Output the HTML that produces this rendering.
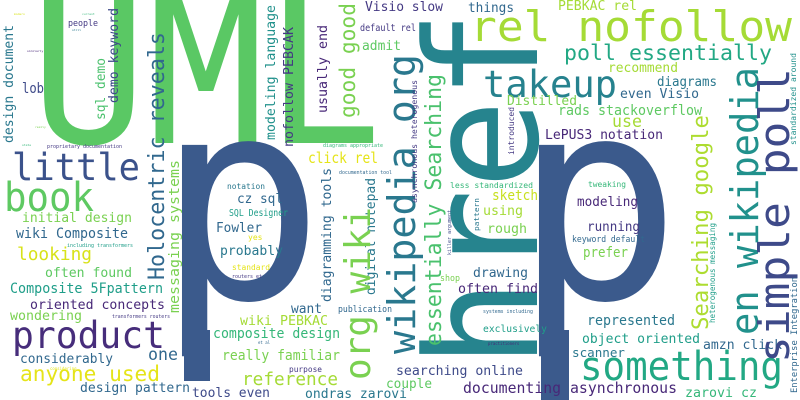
<!DOCTYPE html>
<html><head><meta charset="utf-8">
<style>
html,body{margin:0;padding:0;background:#fff;}
svg{display:block;}
text{font-family:"DejaVu Sans Mono","Liberation Mono",monospace;}
</style></head>
<body>
<svg width="800" height="400" viewBox="0 0 800 400" xmlns="http://www.w3.org/2000/svg">
<rect width="800" height="400" fill="#fff"/>
<g>
<text x="30" y="143" font-size="200" fill="#5ac864" textLength="352" lengthAdjust="spacingAndGlyphs">UML</text>
<text x="156" y="298" font-size="280" fill="#3b5a8c">p</text>
<rect x="184" y="330" width="26" height="51" fill="#3b5a8c"/>
<text x="513" y="298" font-size="280" fill="#3b5a8c">p</text>
<rect x="541" y="330" width="28" height="70" fill="#3b5a8c"/>
<text transform="translate(537,368) rotate(-90)" font-size="155" fill="#26848e" textLength="358" lengthAdjust="spacingAndGlyphs">href</text>
</g>
<g>
<text x="470" y="41" font-size="42" fill="#a5db36" textLength="322" lengthAdjust="spacingAndGlyphs">rel nofollow</text>
<text x="483" y="97" font-size="37" fill="#26828e" textLength="134" lengthAdjust="spacingAndGlyphs">takeup</text>
<text x="564" y="60" font-size="21" fill="#22a884" textLength="208" lengthAdjust="spacingAndGlyphs">poll essentially</text>
<text x="558" y="10" font-size="13" fill="#a5db36" textLength="79" lengthAdjust="spacingAndGlyphs">PEBKAC rel</text>
<text x="468" y="12" font-size="13" fill="#31688e" textLength="46" lengthAdjust="spacingAndGlyphs">things</text>
<text x="365" y="11" font-size="13" fill="#443983" textLength="78" lengthAdjust="spacingAndGlyphs">Visio slow</text>
<text x="360" y="31" font-size="10" fill="#443983" textLength="56" lengthAdjust="spacingAndGlyphs">default rel</text>
<text x="362" y="50" font-size="13" fill="#5ec962" textLength="39" lengthAdjust="spacingAndGlyphs">admit</text>
<text x="608" y="72" font-size="13" fill="#a5db36" textLength="70" lengthAdjust="spacingAndGlyphs">recommend</text>
<text x="657" y="86" font-size="13" fill="#2a788e" textLength="60" lengthAdjust="spacingAndGlyphs">diagrams</text>
<text x="620" y="98" font-size="13" fill="#31688e" textLength="79" lengthAdjust="spacingAndGlyphs">even Visio</text>
<text x="507" y="105" font-size="13" fill="#7ad151" textLength="70" lengthAdjust="spacingAndGlyphs">Distilled</text>
<text x="558" y="115" font-size="14" fill="#5ec962" textLength="144" lengthAdjust="spacingAndGlyphs">rads stackoverflow</text>
<text x="612" y="127" font-size="17" fill="#a5db36" textLength="30" lengthAdjust="spacingAndGlyphs">use</text>
<text x="545" y="139" font-size="13" fill="#482878" textLength="118" lengthAdjust="spacingAndGlyphs">LePUS3 notation</text>
<text x="588" y="187" font-size="8" fill="#35b779" textLength="38" lengthAdjust="spacingAndGlyphs">tweaking</text>
<text x="577" y="206" font-size="13" fill="#482878" textLength="61" lengthAdjust="spacingAndGlyphs">modeling</text>
<text x="587" y="231" font-size="13" fill="#443983" textLength="53" lengthAdjust="spacingAndGlyphs">running</text>
<text x="572" y="242" font-size="9" fill="#31688e" textLength="73" lengthAdjust="spacingAndGlyphs">keyword default</text>
<text x="583" y="257" font-size="14" fill="#7ad151" textLength="45" lengthAdjust="spacingAndGlyphs">prefer</text>
<text x="587" y="325" font-size="14" fill="#2a788e" textLength="88" lengthAdjust="spacingAndGlyphs">represented</text>
<text x="582" y="343" font-size="13" fill="#1f9e89" textLength="118" lengthAdjust="spacingAndGlyphs">object oriented</text>
<text x="572" y="357" font-size="12" fill="#2a788e" textLength="53" lengthAdjust="spacingAndGlyphs">scanner</text>
<text x="580" y="380" font-size="40" fill="#22a884" textLength="203" lengthAdjust="spacingAndGlyphs">something</text>
<text x="703" y="349" font-size="13" fill="#31688e" textLength="79" lengthAdjust="spacingAndGlyphs">amzn click</text>
<text x="685" y="397" font-size="13" fill="#35b779" textLength="72" lengthAdjust="spacingAndGlyphs">zarovi cz</text>
<text x="463" y="393" font-size="15" fill="#482878" textLength="214" lengthAdjust="spacingAndGlyphs">documenting asynchronous</text>
<text x="450" y="188" font-size="8" fill="#35b779" textLength="83" lengthAdjust="spacingAndGlyphs">less standardized</text>
<text x="492" y="200" font-size="14" fill="#c8e020" textLength="46" lengthAdjust="spacingAndGlyphs">sketch</text>
<text x="483" y="215" font-size="13" fill="#a5db36" textLength="40" lengthAdjust="spacingAndGlyphs">using</text>
<text x="487" y="233" font-size="13" fill="#7ad151" textLength="40" lengthAdjust="spacingAndGlyphs">rough</text>
<text x="473" y="277" font-size="13" fill="#31688e" textLength="55" lengthAdjust="spacingAndGlyphs">drawing</text>
<text x="458" y="293" font-size="13" fill="#482878" textLength="80" lengthAdjust="spacingAndGlyphs">often find</text>
<text x="440" y="281" font-size="9" fill="#7ad151" textLength="20" lengthAdjust="spacingAndGlyphs">shop</text>
<text x="483" y="313" font-size="5" fill="#31688e" textLength="50" lengthAdjust="spacingAndGlyphs">systems including</text>
<text x="483" y="332" font-size="10" fill="#1f9e89" textLength="64" lengthAdjust="spacingAndGlyphs">exclusively</text>
<text x="488" y="345" font-size="4" fill="#482878">practitioners</text>
<text x="396" y="375" font-size="13" fill="#3e4a89" textLength="127" lengthAdjust="spacingAndGlyphs">searching online</text>
<text x="386" y="388" font-size="13" fill="#5ec962" textLength="46" lengthAdjust="spacingAndGlyphs">couple</text>
<text x="305" y="398" font-size="13" fill="#2a788e" textLength="102" lengthAdjust="spacingAndGlyphs">ondras zarovi</text>
<text x="338" y="312" font-size="9" fill="#31688e" textLength="54" lengthAdjust="spacingAndGlyphs">publication</text>
<text x="308" y="163" font-size="15" fill="#e5e419" textLength="70" lengthAdjust="spacingAndGlyphs">click rel</text>
<text x="339" y="174" font-size="5" fill="#31688e" textLength="53" lengthAdjust="spacingAndGlyphs">documentation tool</text>
<text x="323" y="147" font-size="5" fill="#35b779" textLength="60" lengthAdjust="spacingAndGlyphs">diagrams appropriate</text>
<text x="227" y="189" font-size="8" fill="#2a788e" textLength="38" lengthAdjust="spacingAndGlyphs">notation</text>
<text x="237" y="203" font-size="13" fill="#31688e" textLength="46" lengthAdjust="spacingAndGlyphs">cz sql</text>
<text x="229" y="216" font-size="10" fill="#1f9e89" textLength="59" lengthAdjust="spacingAndGlyphs">SQL Designer</text>
<text x="216" y="232" font-size="13" fill="#31688e" textLength="46" lengthAdjust="spacingAndGlyphs">Fowler</text>
<text x="248" y="240" font-size="8" fill="#e5e419">yes</text>
<text x="220" y="255" font-size="13" fill="#2a788e" textLength="63" lengthAdjust="spacingAndGlyphs">probably</text>
<text x="232" y="270" font-size="8" fill="#e5e419" textLength="38" lengthAdjust="spacingAndGlyphs">standard</text>
<text x="232" y="278" font-size="5" fill="#443983" textLength="30" lengthAdjust="spacingAndGlyphs">routers et</text>
<text x="291" y="313" font-size="13" fill="#31688e" textLength="31" lengthAdjust="spacingAndGlyphs">want</text>
<text x="240" y="325" font-size="13" fill="#a5db36" textLength="88" lengthAdjust="spacingAndGlyphs">wiki PEBKAC</text>
<text x="213" y="338" font-size="14" fill="#35b779" textLength="127" lengthAdjust="spacingAndGlyphs">composite design</text>
<text x="258" y="344" font-size="4" fill="#31688e">et al</text>
<text x="222" y="360" font-size="14" fill="#7ad151" textLength="118" lengthAdjust="spacingAndGlyphs">really familiar</text>
<text x="289" y="372" font-size="8" fill="#443983" textLength="33" lengthAdjust="spacingAndGlyphs">purpose</text>
<text x="242" y="385" font-size="18" fill="#a5db36" textLength="96" lengthAdjust="spacingAndGlyphs">reference</text>
<text x="192" y="397" font-size="13" fill="#3e4a89" textLength="78" lengthAdjust="spacingAndGlyphs">tools even</text>
<text x="12" y="180" font-size="37" fill="#3b528b" textLength="128" lengthAdjust="spacingAndGlyphs">little</text>
<text x="4" y="211" font-size="40" fill="#5ec962" textLength="90" lengthAdjust="spacingAndGlyphs">book</text>
<text x="22" y="222" font-size="13" fill="#7ad151" textLength="110" lengthAdjust="spacingAndGlyphs">initial design</text>
<text x="16" y="238" font-size="14" fill="#31688e" textLength="112" lengthAdjust="spacingAndGlyphs">wiki Composite</text>
<text x="67" y="247" font-size="5" fill="#1f9e89" textLength="66" lengthAdjust="spacingAndGlyphs">including transformers</text>
<text x="17" y="260" font-size="18" fill="#d8e219" textLength="75" lengthAdjust="spacingAndGlyphs">looking</text>
<text x="45" y="277" font-size="13" fill="#5ec962" textLength="87" lengthAdjust="spacingAndGlyphs">often found</text>
<text x="10" y="293" font-size="14" fill="#1f9e89" textLength="153" lengthAdjust="spacingAndGlyphs">Composite 5Fpattern</text>
<text x="30" y="309" font-size="13" fill="#482878" textLength="135" lengthAdjust="spacingAndGlyphs">oriented concepts</text>
<text x="10" y="320" font-size="13" fill="#7ad151" textLength="72" lengthAdjust="spacingAndGlyphs">wondering</text>
<text x="112" y="318" font-size="5" fill="#443983" textLength="58" lengthAdjust="spacingAndGlyphs">transformers routers</text>
<text x="12" y="348" font-size="37" fill="#472d7b" textLength="153" lengthAdjust="spacingAndGlyphs">product</text>
<text x="20" y="363" font-size="13" fill="#31688e" textLength="93" lengthAdjust="spacingAndGlyphs">considerably</text>
<text x="148" y="360" font-size="17" fill="#31688e" textLength="30" lengthAdjust="spacingAndGlyphs">one</text>
<text x="50" y="370" font-size="4" fill="#e5e419">considering</text>
<text x="20" y="381" font-size="21" fill="#e5e419" textLength="140" lengthAdjust="spacingAndGlyphs">anyone used</text>
<text x="80" y="392" font-size="13" fill="#31688e" textLength="110" lengthAdjust="spacingAndGlyphs">design pattern</text>
<text x="22" y="93" font-size="14" fill="#3e4a89" textLength="22" lengthAdjust="spacingAndGlyphs">lob</text>
<text x="68" y="26" font-size="9" fill="#443983" textLength="30" lengthAdjust="spacingAndGlyphs">people</text>
<text x="47" y="148" font-size="5" fill="#443983" textLength="75" lengthAdjust="spacingAndGlyphs">proprietary documentation</text>
<text x="14" y="15" font-size="3" fill="#d8e219">modern</text>
<text x="82" y="15" font-size="3" fill="#35b779">current</text>
<text x="72" y="31" font-size="3" fill="#2a788e">still</text>
<text x="27" y="52" font-size="3" fill="#482878">similarly</text>
<text x="35" y="128" font-size="3" fill="#7ad151">really</text>
<text x="22" y="146" font-size="3" fill="#35b779">state</text>
</g>
<g>
<text transform="translate(164,280) rotate(-90)" font-size="22" fill="#31688e" textLength="248" lengthAdjust="spacingAndGlyphs">Holocentric reveals</text>
<text transform="translate(179,313) rotate(-90)" font-size="14" fill="#7ad151" textLength="153" lengthAdjust="spacingAndGlyphs">messaging systems</text>
<text transform="translate(118,103) rotate(-90)" font-size="13" fill="#3e4a89" textLength="95" lengthAdjust="spacingAndGlyphs">demo keyword</text>
<text transform="translate(105,120) rotate(-90)" font-size="13" fill="#4ac16d" textLength="62" lengthAdjust="spacingAndGlyphs">sql demo</text>
<text transform="translate(13,143) rotate(-90)" font-size="13" fill="#2a788e" textLength="118" lengthAdjust="spacingAndGlyphs">design document</text>
<text transform="translate(275,140) rotate(-90)" font-size="13" fill="#21918c" textLength="135" lengthAdjust="spacingAndGlyphs">modeling language</text>
<text transform="translate(293,147) rotate(-90)" font-size="13" fill="#443983" textLength="120" lengthAdjust="spacingAndGlyphs">nofollow PEBCAK</text>
<text transform="translate(327,113) rotate(-90)" font-size="13" fill="#482878" textLength="88" lengthAdjust="spacingAndGlyphs">usually end</text>
<text transform="translate(355,118) rotate(-90)" font-size="21" fill="#7ad151" textLength="115" lengthAdjust="spacingAndGlyphs">good good</text>
<text transform="translate(331,302) rotate(-90)" font-size="13" fill="#31688e" textLength="134" lengthAdjust="spacingAndGlyphs">diagramming tools</text>
<text transform="translate(375,295) rotate(-90)" font-size="13" fill="#2a788e" textLength="117" lengthAdjust="spacingAndGlyphs">digital notepad</text>
<text transform="translate(370,380) rotate(-90)" font-size="36" fill="#7ad151" textLength="173" lengthAdjust="spacingAndGlyphs">org wiki</text>
<text transform="translate(415,354) rotate(-90)" font-size="38" fill="#2a788e" textLength="300" lengthAdjust="spacingAndGlyphs">wikipedia org</text>
<text transform="translate(417,203) rotate(-90)" font-size="8" fill="#443983" textLength="123" lengthAdjust="spacingAndGlyphs">asynchronous heterogenous</text>
<text transform="translate(441,346) rotate(-90)" font-size="22" fill="#4ac16d" textLength="272" lengthAdjust="spacingAndGlyphs">essentially Searching</text>
<text transform="translate(451,255) rotate(-90)" font-size="5" fill="#3e4a89" textLength="45" lengthAdjust="spacingAndGlyphs">killer argument</text>
<text transform="translate(479,231) rotate(-90)" font-size="7" fill="#2a788e" textLength="33" lengthAdjust="spacingAndGlyphs">pattern</text>
<text transform="translate(514,155) rotate(-90)" font-size="8" fill="#443983" textLength="48" lengthAdjust="spacingAndGlyphs">introduced</text>
<text transform="translate(708,330) rotate(-90)" font-size="22" fill="#addc30" textLength="215" lengthAdjust="spacingAndGlyphs">Searching google</text>
<text transform="translate(715,323) rotate(-90)" font-size="7.5" fill="#1f9e89" textLength="100" lengthAdjust="spacingAndGlyphs">heterogenous messaging</text>
<text transform="translate(758,335) rotate(-90)" font-size="38" fill="#21918c" textLength="268" lengthAdjust="spacingAndGlyphs">en wikipedia</text>
<text transform="translate(789,363) rotate(-90)" font-size="42" fill="#3e4a89" textLength="295" lengthAdjust="spacingAndGlyphs">simple poll</text>
<text transform="translate(797,393) rotate(-90)" font-size="9" fill="#31688e" textLength="116" lengthAdjust="spacingAndGlyphs">Enterprise Integration</text>
<text transform="translate(796,145) rotate(-90)" font-size="8" fill="#21918c" textLength="92" lengthAdjust="spacingAndGlyphs">standardized around</text>
</g>
</svg>
</body></html>
